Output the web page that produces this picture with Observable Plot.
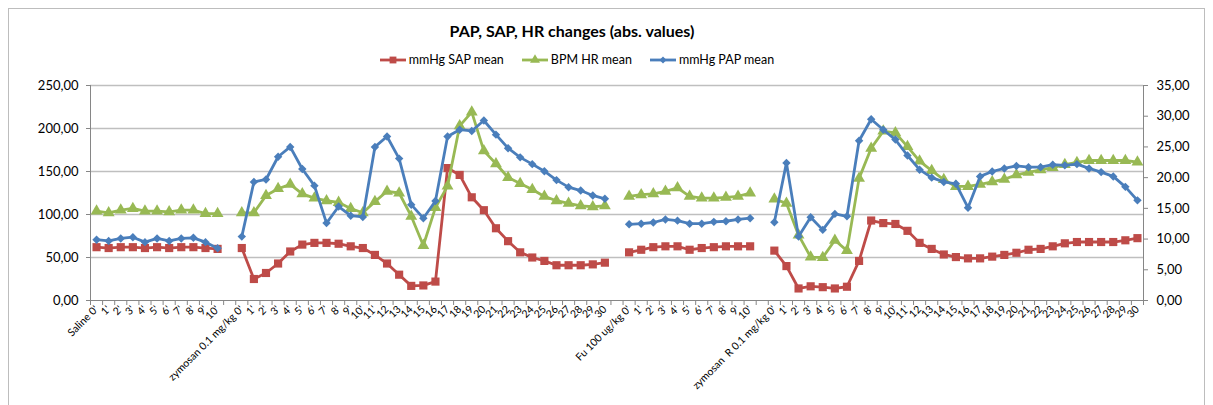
<!DOCTYPE html>
<html><head><meta charset="utf-8">
<script src="https://cdn.jsdelivr.net/npm/d3@7"></script>
<script src="https://cdn.jsdelivr.net/npm/@observablehq/plot@0.6"></script>
<style>
body{margin:0;background:#fff;font-family:Lato, "Open Sans", sans-serif;color:#000;}
#frame{position:absolute;left:8px;top:8px;width:1197px;height:420px;border:1px solid #bdbdbd;box-sizing:border-box;}
#title{position:absolute;top:20px;left:0;width:1144px;text-align:center;font-weight:bold;font-size:16px;line-height:22px;}
#legend{position:absolute;top:51px;left:0;width:1154px;display:flex;justify-content:center;gap:18px;font-size:12.5px;line-height:18px;}
#legend .it{display:flex;align-items:center;gap:3px;}
#chart{position:absolute;top:70px;left:0;}
</style></head>
<body>
<div id="frame"></div>
<div id="title">PAP, SAP, HR changes (abs. values)</div>
<div id="legend"></div>
<div id="chart"></div>
<script>
// ---- tick labels per group ----
const salineLabels = ["Saline 0'","1'","2'","3'","4'","5'","6'","7'","8'","9'","10'"];
const zymLabels = ["zymosan 0.1 mg/kg 0'","1'","2'","3'","4'","5'","6'","7'","8'","9'","10'","11'","12","13","14","15","16","17","18","19","20","21","22","23","24","25","26","27","28","29","30"];
const fuLabels = ["Fu 100 ug/kg 0'","1'","2'","3'","4'","5'","6'","7'","8'","9'","10'"];
const zymRLabels = ["zymosan  R 0.1 mg/kg 0'","1'","2'","3'","4'","5'","6'","7'","8'","9'","10'","11'","12","13","14","15","16","17","18","19","20","21","22","23","24","25","26","27","28","29","30"];

// ---- mmHg SAP mean (left axis) ----
const sapSaline = [62,61,62,62,61,62,61,62,62,61,60];
const sapZym = [61,25,32,43,57,65,67,67,66,63,61,53,43,30,17,17.5,22,154,146,120,105,84,69,56,50,46,41,41,41,42,44];
const sapFu = [56,59,62,63,63,59,61,62,63,63,63];
const sapZymR = [58,40,14,16.5,15.5,14,16,46,93,90,89,81,67,60,53.5,50.5,49,49,51,53,55.5,59,60,63,66.5,68,68,68,68,70,72.5];

// ---- BPM HR mean (left axis) ----
const hrSaline = [104,102,105,107,104,104,103,105,105,101,101];
const hrZym = [102,102,122,130,135,124,119,116,114,107,102,115,127,125,98,64,108,133,203,219,174,159,143,136,129,121,116,113,110,109,110];
const hrFu = [121,123,124,127,131,121,119,119,120,121,125];
const hrZymR = [118,113,76,50.5,50,70,58,142,177,197,195,179,162,151,140.5,132.6,132.6,135,138,141,146,149,152,154.5,158,160.5,162.8,162.8,162.8,162.8,161];

// ---- mmHg PAP mean (right axis) ----
const papSaline = [9.9,9.7,10.1,10.3,9.5,10.1,9.7,10.1,10.2,9.5,8.5];
const papZym = [10.4,19.3,19.7,23.4,25.0,21.4,18.7,12.6,15.3,13.8,13.6,25.0,26.7,23.1,15.6,13.4,16.2,26.7,27.8,27.6,29.3,27.0,24.8,23.3,22.2,21.05,19.6,18.45,17.9,17.1,16.55];
const papFu = [12.4,12.5,12.7,13.2,13.0,12.5,12.5,12.8,12.9,13.2,13.4];
const papZymR = [12.75,22.4,10.4,13.56,11.5,14.1,13.7,26.0,29.5,27.8,26.2,23.6,21.3,20.0,19.3,19.0,15.1,20.2,21.0,21.5,21.9,21.7,21.7,22.1,22.0,22.2,21.5,20.9,20.2,18.5,16.3];

// ---- axis ticks ----
const leftTicks = [0,50,100,150,200,250];
const rightTicks = [0,5,10,15,20,25,30,35];

const series = [
  {name:"mmHg SAP mean", key:"sap", color:"#BE4B48", symbol:"square", r:4.6},
  {name:"BPM HR mean", key:"hr", color:"#98B954", symbol:"triangle", r:4.4},
  {name:"mmHg PAP mean", key:"pap", color:"#4A7EBB", symbol:"diamond2", r:3.8}
];

const groups = [
  {labels:salineLabels, sap:sapSaline, hr:hrSaline, pap:papSaline},
  {labels:zymLabels, sap:sapZym, hr:hrZym, pap:papZym},
  {labels:fuLabels, sap:sapFu, hr:hrFu, pap:papFu},
  {labels:zymRLabels, sap:sapZymR, hr:hrZymR, pap:papZymR}
];

const kR = 250 / 35; // right axis -> left axis
const rows = [];
groups.forEach((g, gi) => {
  g.labels.forEach((lab, i) => rows.push({key: rows.length, label: lab, sap: g.sap[i], hr: g.hr[i], pap: g.pap[i] * kR}));
  if (gi < groups.length - 1) rows.push({key: rows.length, label: "", sap: null, hr: null, pap: null});
});
const labelOf = new Map(rows.map(r => [r.key, r.label]));
const xMin = -0.5, xMax = rows.length - 0.5;
const boundaries = d3.range(rows.length + 1).map(i => i - 0.5);
const fmt = v => v.toFixed(2).replace(".", ",");
const axisGray = "#868686";

const marks = [
  Plot.ruleY(leftTicks.slice(1), {stroke: "#bfbfbf", strokeWidth: 1.3}),
  Plot.axisY({anchor: "left", label: null, ticks: leftTicks, tickSize: 4, tickPadding: 8, tickFormat: fmt, stroke: axisGray, fill: "#000", fontSize: 13}),
  Plot.axisY({anchor: "right", label: null, ticks: rightTicks.map(v => v * kR), tickSize: 4, tickPadding: 9, tickFormat: d => fmt(d / kR), stroke: axisGray, fill: "#000", fontSize: 13}),
  Plot.axisX({label: null, ticks: boundaries, tickSize: 5, tickFormat: () => "", stroke: axisGray}),
  Plot.axisX({label: null, ticks: rows.filter(r => r.label).map(r => r.key), tickSize: 0, tickPadding: 7, tickRotate: -45, tickFormat: k => labelOf.get(k), fill: "#000", fontSize: 10.5}),
  Plot.ruleX([xMin, xMax], {stroke: axisGray}),
  Plot.ruleY([0], {stroke: axisGray})
];
for (const s of series) {
  marks.push(Plot.line(rows, {x: "key", y: s.key, stroke: s.color, strokeWidth: 2.8, curve: "linear"}));
  marks.push(Plot.dot(rows, {x: "key", y: s.key, symbol: s.symbol, r: s.r, fill: s.color, stroke: "none"}));
}

const chart = Plot.plot({
  width: 1213, height: 330,
  marginLeft: 90, marginRight: 70, marginTop: 15, marginBottom: 100,
  style: {fontFamily: "Lato, 'Open Sans', sans-serif", background: "transparent"},
  x: {type: "linear", domain: [xMin, xMax], axis: null},
  y: {domain: [0, 250], axis: null},
  marks
});
document.getElementById("chart").append(chart);

// legend
const leg = d3.select("#legend");
const symPath = {square: d3.symbolSquare, triangle: d3.symbolTriangle, diamond2: d3.symbolDiamond2};
for (const s of series) {
  const it = leg.append("div").attr("class", "it");
  const sv = it.append("svg").attr("width", 26).attr("height", 12);
  sv.append("line").attr("x1", 0).attr("x2", 26).attr("y1", 6).attr("y2", 6).attr("stroke", s.color).attr("stroke-width", 2.8);
  sv.append("path").attr("transform", "translate(13,6)").attr("d", d3.symbol(symPath[s.symbol], Math.PI * s.r * s.r * 0.7)()).attr("fill", s.color);
  it.append("span").text(s.name);
}
</script>
</body></html>
